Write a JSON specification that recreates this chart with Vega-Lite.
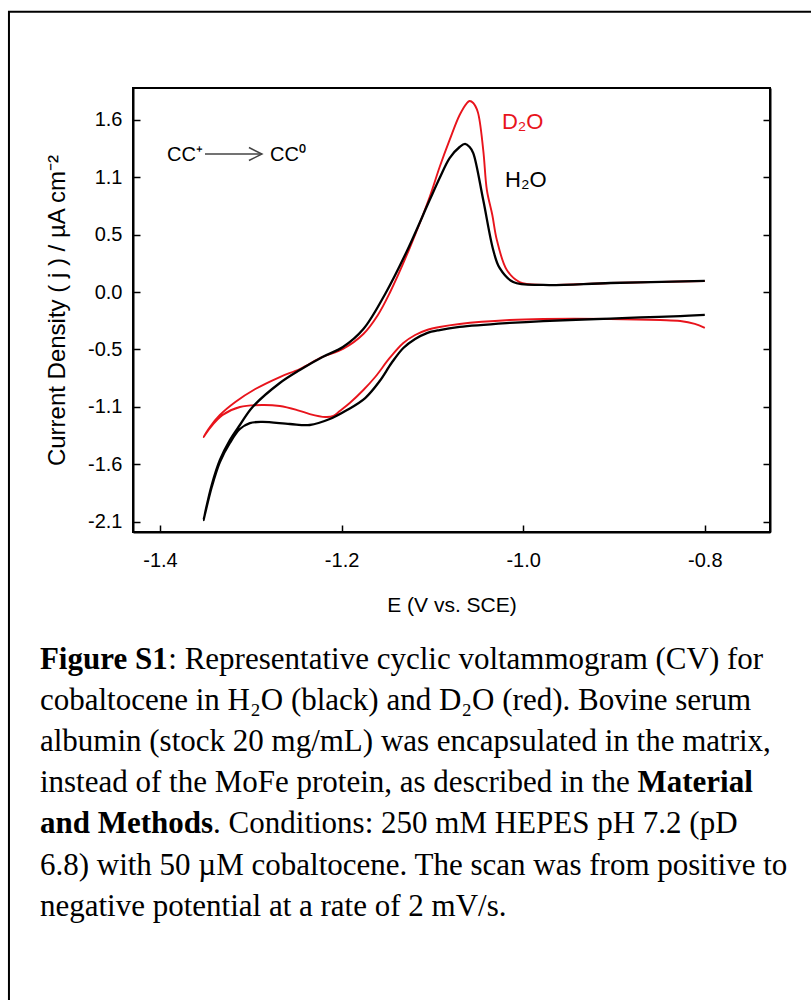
{
  "$schema": "https://vega.github.io/schema/vega-lite/v6.json",
  "width": 637,
  "height": 444,
  "autosize": {"type": "none"},
  "padding": {"left": 133, "top": 88, "right": 41, "bottom": 468},
  "background": "white",
  "config": {
    "view": {"stroke": "black", "strokeWidth": 2},
    "axis": {
      "labelFont": "Liberation Sans",
      "titleFont": "Liberation Sans",
      "labelColor": "black",
      "titleColor": "black",
      "domainColor": "black",
      "tickColor": "black",
      "domainWidth": 2,
      "tickWidth": 1.5,
      "grid": false,
      "titleFontWeight": "normal"
    }
  },
  "datasets": {
    "cv": [
      {"s": "H2O", "o": 1, "x": -0.800, "y": -0.212},
      {"s": "H2O", "o": 2, "x": -0.827, "y": -0.222},
      {"s": "H2O", "o": 3, "x": -0.871, "y": -0.235},
      {"s": "H2O", "o": 4, "x": -0.904, "y": -0.245},
      {"s": "H2O", "o": 5, "x": -0.978, "y": -0.268},
      {"s": "H2O", "o": 6, "x": -1.015, "y": -0.286},
      {"s": "H2O", "o": 7, "x": -1.070, "y": -0.323},
      {"s": "H2O", "o": 8, "x": -1.092, "y": -0.351},
      {"s": "H2O", "o": 9, "x": -1.106, "y": -0.379},
      {"s": "H2O", "o": 10, "x": -1.119, "y": -0.434},
      {"s": "H2O", "o": 11, "x": -1.132, "y": -0.517},
      {"s": "H2O", "o": 12, "x": -1.145, "y": -0.656},
      {"s": "H2O", "o": 13, "x": -1.158, "y": -0.822},
      {"s": "H2O", "o": 14, "x": -1.174, "y": -0.979},
      {"s": "H2O", "o": 15, "x": -1.194, "y": -1.090},
      {"s": "H2O", "o": 16, "x": -1.213, "y": -1.173},
      {"s": "H2O", "o": 17, "x": -1.235, "y": -1.228},
      {"s": "H2O", "o": 18, "x": -1.257, "y": -1.219},
      {"s": "H2O", "o": 19, "x": -1.287, "y": -1.200},
      {"s": "H2O", "o": 20, "x": -1.301, "y": -1.210},
      {"s": "H2O", "o": 21, "x": -1.312, "y": -1.265},
      {"s": "H2O", "o": 22, "x": -1.323, "y": -1.394},
      {"s": "H2O", "o": 23, "x": -1.334, "y": -1.570},
      {"s": "H2O", "o": 24, "x": -1.343, "y": -1.801},
      {"s": "H2O", "o": 25, "x": -1.352, "y": -2.105},
      {"s": "H2O", "o": 26, "x": -1.343, "y": -1.782},
      {"s": "H2O", "o": 27, "x": -1.334, "y": -1.551},
      {"s": "H2O", "o": 28, "x": -1.323, "y": -1.367},
      {"s": "H2O", "o": 29, "x": -1.312, "y": -1.228},
      {"s": "H2O", "o": 30, "x": -1.298, "y": -1.062},
      {"s": "H2O", "o": 31, "x": -1.268, "y": -0.840},
      {"s": "H2O", "o": 32, "x": -1.246, "y": -0.720},
      {"s": "H2O", "o": 33, "x": -1.221, "y": -0.600},
      {"s": "H2O", "o": 34, "x": -1.1985, "y": -0.508},
      {"s": "H2O", "o": 35, "x": -1.176, "y": -0.342},
      {"s": "H2O", "o": 36, "x": -1.152, "y": -0.018},
      {"s": "H2O", "o": 37, "x": -1.128, "y": 0.379},
      {"s": "H2O", "o": 38, "x": -1.103, "y": 0.849},
      {"s": "H2O", "o": 39, "x": -1.092, "y": 1.053},
      {"s": "H2O", "o": 40, "x": -1.081, "y": 1.237},
      {"s": "H2O", "o": 41, "x": -1.070, "y": 1.339},
      {"s": "H2O", "o": 42, "x": -1.064, "y": 1.367},
      {"s": "H2O", "o": 43, "x": -1.059, "y": 1.339},
      {"s": "H2O", "o": 44, "x": -1.055, "y": 1.283},
      {"s": "H2O", "o": 45, "x": -1.044, "y": 0.849},
      {"s": "H2O", "o": 46, "x": -1.033, "y": 0.388},
      {"s": "H2O", "o": 47, "x": -1.026, "y": 0.222},
      {"s": "H2O", "o": 48, "x": -1.011, "y": 0.092},
      {"s": "H2O", "o": 49, "x": -0.978, "y": 0.065},
      {"s": "H2O", "o": 50, "x": -0.904, "y": 0.083},
      {"s": "H2O", "o": 51, "x": -0.800, "y": 0.102},
      {"s": "D2O", "o": 1, "x": -0.800, "y": -0.332},
      {"s": "D2O", "o": 2, "x": -0.811, "y": -0.295},
      {"s": "D2O", "o": 3, "x": -0.827, "y": -0.268},
      {"s": "D2O", "o": 4, "x": -0.849, "y": -0.259},
      {"s": "D2O", "o": 5, "x": -0.904, "y": -0.249},
      {"s": "D2O", "o": 6, "x": -0.978, "y": -0.249},
      {"s": "D2O", "o": 7, "x": -1.015, "y": -0.259},
      {"s": "D2O", "o": 8, "x": -1.070, "y": -0.295},
      {"s": "D2O", "o": 9, "x": -1.092, "y": -0.323},
      {"s": "D2O", "o": 10, "x": -1.106, "y": -0.351},
      {"s": "D2O", "o": 11, "x": -1.119, "y": -0.397},
      {"s": "D2O", "o": 12, "x": -1.132, "y": -0.471},
      {"s": "D2O", "o": 13, "x": -1.147, "y": -0.609},
      {"s": "D2O", "o": 14, "x": -1.163, "y": -0.785},
      {"s": "D2O", "o": 15, "x": -1.176, "y": -0.905},
      {"s": "D2O", "o": 16, "x": -1.191, "y": -1.025},
      {"s": "D2O", "o": 17, "x": -1.202, "y": -1.099},
      {"s": "D2O", "o": 18, "x": -1.209, "y": -1.145},
      {"s": "D2O", "o": 19, "x": -1.218, "y": -1.154},
      {"s": "D2O", "o": 20, "x": -1.235, "y": -1.127},
      {"s": "D2O", "o": 21, "x": -1.249, "y": -1.090},
      {"s": "D2O", "o": 22, "x": -1.268, "y": -1.053},
      {"s": "D2O", "o": 23, "x": -1.287, "y": -1.043},
      {"s": "D2O", "o": 24, "x": -1.312, "y": -1.062},
      {"s": "D2O", "o": 25, "x": -1.331, "y": -1.136},
      {"s": "D2O", "o": 26, "x": -1.345, "y": -1.256},
      {"s": "D2O", "o": 27, "x": -1.352, "y": -1.339},
      {"s": "D2O", "o": 28, "x": -1.345, "y": -1.247},
      {"s": "D2O", "o": 29, "x": -1.334, "y": -1.136},
      {"s": "D2O", "o": 30, "x": -1.317, "y": -1.016},
      {"s": "D2O", "o": 31, "x": -1.295, "y": -0.896},
      {"s": "D2O", "o": 32, "x": -1.268, "y": -0.785},
      {"s": "D2O", "o": 33, "x": -1.246, "y": -0.711},
      {"s": "D2O", "o": 34, "x": -1.221, "y": -0.600},
      {"s": "D2O", "o": 35, "x": -1.1985, "y": -0.526},
      {"s": "D2O", "o": 36, "x": -1.176, "y": -0.388},
      {"s": "D2O", "o": 37, "x": -1.160, "y": -0.212},
      {"s": "D2O", "o": 38, "x": -1.147, "y": -0.009},
      {"s": "D2O", "o": 39, "x": -1.125, "y": 0.406},
      {"s": "D2O", "o": 40, "x": -1.103, "y": 0.877},
      {"s": "D2O", "o": 41, "x": -1.092, "y": 1.154},
      {"s": "D2O", "o": 42, "x": -1.081, "y": 1.404},
      {"s": "D2O", "o": 43, "x": -1.070, "y": 1.634},
      {"s": "D2O", "o": 44, "x": -1.062, "y": 1.745},
      {"s": "D2O", "o": 45, "x": -1.059, "y": 1.764},
      {"s": "D2O", "o": 46, "x": -1.055, "y": 1.745},
      {"s": "D2O", "o": 47, "x": -1.050, "y": 1.662},
      {"s": "D2O", "o": 48, "x": -1.044, "y": 1.311},
      {"s": "D2O", "o": 49, "x": -1.040, "y": 0.942},
      {"s": "D2O", "o": 50, "x": -1.034, "y": 0.711},
      {"s": "D2O", "o": 51, "x": -1.029, "y": 0.480},
      {"s": "D2O", "o": 52, "x": -1.018, "y": 0.203},
      {"s": "D2O", "o": 53, "x": -1.004, "y": 0.092},
      {"s": "D2O", "o": 54, "x": -0.978, "y": 0.065},
      {"s": "D2O", "o": 55, "x": -0.904, "y": 0.083},
      {"s": "D2O", "o": 56, "x": -0.800, "y": 0.102}
    ],
    "frame": [{"x": -1.5663, "x2": -0.66, "y": 2.588, "y2": -7.5}],
    "arrow": [{"x": -1.3504, "x2": -1.2877, "y": 1.274}],
    "notes": [
      {"t": "CC⁺", "x": -1.3923, "y": 1.265, "c": "black", "k": "cc"},
      {"t": "CC⁰", "x": -1.2789, "y": 1.265, "c": "black", "k": "cc"},
      {"t": "D₂O", "x": -1.0234, "y": 1.572, "c": "red", "k": "sol"},
      {"t": "H₂O", "x": -1.020, "y": 1.034, "c": "black", "k": "sol"}
    ],
    "caption": [
      {"t": "Figure S1", "w": "bold", "x": -1.5322, "y": -3.398},
      {"t": ": Representative cyclic voltammogram (CV) for", "w": "normal", "x": -1.3908, "y": -3.398},
      {"t": "cobaltocene in H₂O (black) and D₂O (red). Bovine serum", "w": "normal", "x": -1.5322, "y": -3.777},
      {"t": "albumin (stock 20 mg/mL) was encapsulated in the matrix,", "w": "normal", "x": -1.5322, "y": -4.155},
      {"t": "instead of the MoFe protein, as described in the", "w": "normal", "x": -1.5322, "y": -4.534},
      {"t": "Material", "w": "bold", "x": -0.8741, "y": -4.534},
      {"t": "and Methods", "w": "bold", "x": -1.5322, "y": -4.912},
      {"t": ". Conditions: 250 mM HEPES pH 7.2 (pD", "w": "normal", "x": -1.3415, "y": -4.912},
      {"t": "6.8) with 50 µM cobaltocene. The scan was from positive to", "w": "normal", "x": -1.5322, "y": -5.300},
      {"t": "negative potential at a rate of 2 mV/s.", "w": "normal", "x": -1.5322, "y": -5.679}
    ]
  },
  "encoding": {
    "x": {"field": "x", "type": "quantitative", "scale": {"domain": [-1.4297, -0.7282], "nice": false, "zero": false},
      "axis": {"values": [-1.4, -1.2, -1.0, -0.8], "format": ".1f", "labelExpr": "replace(datum.label, '−', '-')", "tickSize": -7, "labelPadding": 25, "labelFontSize": 20,
        "title": "E (V vs. SCE)", "titleFontSize": 21, "titleY": 73, "titleBaseline": "middle"}},
    "y": {"field": "y", "type": "quantitative", "scale": {"domain": [-2.2161, 1.8837], "nice": false, "zero": false}, "axis": null}
  },
  "layer": [
    {
      "data": {"name": "frame"},
      "mark": {"type": "rect", "fill": null, "fillOpacity": 0, "stroke": "black", "strokeWidth": 2, "clip": false},
      "encoding": {"x2": {"field": "x2"}, "y2": {"field": "y2"}}
    },
    {
      "data": {"name": "cv"},
      "transform": [{"filter": "datum.s == 'D2O'"}],
      "mark": {"type": "line", "interpolate": "catmull-rom", "color": "#e8141c", "strokeWidth": 1.9},
      "encoding": {
        "order": {"field": "o", "type": "quantitative"},
        "y": {"field": "y", "type": "quantitative", "scale": {"domain": [-2.2161, 1.8837], "nice": false, "zero": false},
          "axis": {"orient": "right", "values": [-2.12, -1.59, -1.06, -0.53, 0, 0.53, 1.06, 1.59], "labels": false, "tickSize": -7, "title": null}}
      }
    },
    {
      "data": {"name": "cv"},
      "transform": [{"filter": "datum.s == 'H2O'"}],
      "mark": {"type": "line", "interpolate": "catmull-rom", "color": "black", "strokeWidth": 2.3},
      "encoding": {
        "order": {"field": "o", "type": "quantitative"},
        "y": {"field": "y", "type": "quantitative", "scale": {"domain": [-2.2161, 1.8837], "nice": false, "zero": false},
          "axis": {"orient": "left", "values": [-2.12, -1.59, -1.06, -0.53, 0, 0.53, 1.06, 1.59], "format": ".1f", "labelExpr": "replace(datum.label, '−', '-')", "tickSize": -7, "labelPadding": 18, "labelFontSize": 20,
            "title": "Current Density ( j ) / µA cm⁻²", "titleFontSize": 24, "titleX": -76, "titleY": 222, "titleAngle": -90, "titleBaseline": "middle", "titleAlign": "center"}}
      }
    },
    {
      "data": {"name": "arrow"},
      "mark": {"type": "rule", "color": "#444444", "strokeWidth": 1.5},
      "encoding": {"x2": {"field": "x2"}}
    },
    {
      "data": {"name": "arrow"},
      "mark": {"type": "point", "shape": "M-1,-0.5L0,0L-1,0.5", "filled": false, "stroke": "#444444", "strokeWidth": 1.5, "size": 676, "opacity": 1},
      "encoding": {"x": {"field": "x2", "type": "quantitative", "scale": {"domain": [-1.4297, -0.7282], "nice": false, "zero": false}}}
    },
    {
      "data": {"name": "notes"},
      "transform": [{"filter": "datum.k == 'cc'"}],
      "mark": {"type": "text", "align": "left", "baseline": "middle", "font": "Liberation Sans", "fontSize": 20},
      "encoding": {
        "text": {"field": "t"},
        "color": {"field": "c", "type": "nominal", "scale": {"domain": ["black", "red"], "range": ["#000000", "#e8141c"]}, "legend": null}
      }
    },
    {
      "data": {"name": "notes"},
      "transform": [{"filter": "datum.k == 'sol'"}],
      "mark": {"type": "text", "align": "left", "baseline": "middle", "font": "Liberation Sans", "fontSize": 22},
      "encoding": {
        "text": {"field": "t"},
        "color": {"field": "c", "type": "nominal", "scale": {"domain": ["black", "red"], "range": ["#000000", "#e8141c"]}, "legend": null}
      }
    },
    {
      "data": {"name": "caption"},
      "transform": [{"filter": "datum.w == 'normal'"}],
      "mark": {"type": "text", "align": "left", "baseline": "middle", "font": "Liberation Serif", "fontSize": 31, "color": "black", "clip": false},
      "encoding": {"text": {"field": "t"}}
    },
    {
      "data": {"name": "caption"},
      "transform": [{"filter": "datum.w == 'bold'"}],
      "mark": {"type": "text", "align": "left", "baseline": "middle", "font": "Liberation Serif", "fontSize": 31, "fontWeight": "bold", "color": "black", "clip": false},
      "encoding": {"text": {"field": "t"}}
    }
  ],
  "resolve": {"axis": {"y": "independent"}}
}
